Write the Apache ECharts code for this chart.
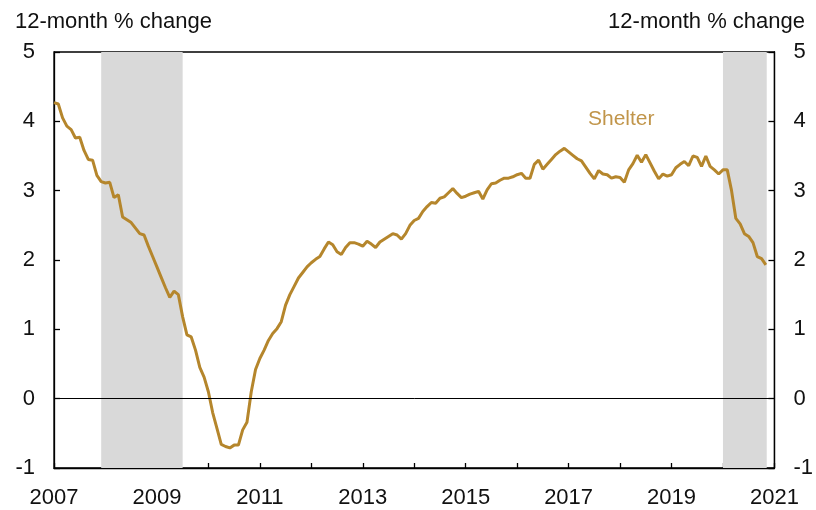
<!DOCTYPE html>
<html>
<head>
<meta charset="UTF-8">
<title>Shelter</title>
<script src="https://cdn.jsdelivr.net/npm/echarts@6/dist/echarts.min.js"></script>
<style>
  html, body { margin: 0; padding: 0; background: #fff; }
  #chart { width: 816px; height: 510px; }
</style>
</head>
<body>
<div id="chart"></div>
<script>
// monthly 12-month % change, Jan 2007 .. Nov 2020
var startYear = 2007;
var shelter = [
  4.27, 4.25, 4.05, 3.93, 3.88, 3.76, 3.77, 3.58, 3.45, 3.44, 3.22, 3.13,
  3.11, 3.12, 2.90, 2.94, 2.62, 2.58, 2.54, 2.46, 2.38, 2.36, 2.20, 2.05,
  1.90, 1.75, 1.60, 1.46, 1.55, 1.50, 1.18, 0.92, 0.89, 0.70, 0.45, 0.31,
  0.10, -0.20, -0.43, -0.66, -0.69, -0.71, -0.67, -0.67, -0.45, -0.34, 0.10, 0.42,
  0.58, 0.70, 0.84, 0.94, 1.01, 1.11, 1.35, 1.50, 1.62, 1.74, 1.82, 1.90,
  1.96, 2.01, 2.05, 2.16, 2.26, 2.22, 2.12, 2.08, 2.18, 2.25, 2.25, 2.23,
  2.20, 2.27, 2.23, 2.18, 2.26, 2.30, 2.34, 2.38, 2.36, 2.30, 2.38, 2.50,
  2.57, 2.60, 2.70, 2.77, 2.83, 2.82, 2.89, 2.91, 2.97, 3.03, 2.96, 2.90,
  2.92, 2.95, 2.97, 2.99, 2.88, 3.01, 3.10, 3.11, 3.15, 3.18, 3.18, 3.20,
  3.23, 3.25, 3.18, 3.18, 3.38, 3.44, 3.31, 3.38, 3.45, 3.52, 3.57, 3.61,
  3.56, 3.51, 3.46, 3.43, 3.34, 3.25, 3.17, 3.29, 3.24, 3.23, 3.18, 3.20,
  3.19, 3.12, 3.30, 3.39, 3.51, 3.41, 3.52, 3.40, 3.28, 3.17, 3.24, 3.21,
  3.23, 3.33, 3.38, 3.42, 3.36, 3.50, 3.48, 3.35, 3.50, 3.35, 3.30, 3.24,
  3.30, 3.30, 3.00, 2.60, 2.52, 2.38, 2.34, 2.25, 2.05, 2.02, 1.93
];
// recession periods (decimal years)
var recessions = [[2007.917, 2009.5], [2020.0, 2020.85]];
var yearLabels = ['2007', '2009', '2011', '2013', '2015', '2017', '2019', '2021'];
var yLabels = ['-1', '0', '1', '2', '3', '4', '5'];

var lineColor = '#b5862c';
var font = 'Liberation Sans, Arial, Helvetica, sans-serif';

var points = shelter.map(function (v, i) { return [startYear + i / 12, v]; });

var chart = echarts.init(document.getElementById('chart'));
var yAxisBase = {
  type: 'value', min: -1, max: 5, interval: 1,
  splitLine: { show: false },
  axisLine: { show: true, lineStyle: { color: '#000', width: 1.3 } },
  axisTick: { show: true, inside: true, length: 6, lineStyle: { color: '#000', width: 1.3 } },
  axisLabel: {
    margin: 19, fontSize: 22, color: '#111', fontFamily: font,
    formatter: function (v) { return yLabels.indexOf(String(v)) >= 0 ? String(v) : ''; }
  }
};
var option = {
  animation: false,
  backgroundColor: '#fff',
  title: [
    { text: '12-month % change', left: 10, top: 6, textStyle: { fontSize: 22, fontWeight: 'normal', color: '#111', fontFamily: font } },
    { text: '12-month % change', right: 6, top: 6, textStyle: { fontSize: 22, fontWeight: 'normal', color: '#111', fontFamily: font } }
  ],
  grid: { left: 54, right: 38, top: 52, bottom: 42, show: true, borderColor: '#000', borderWidth: 1.3, backgroundColor: 'transparent' },
  xAxis: {
    type: 'value', min: 2007, max: 2021, interval: 1,
    splitLine: { show: false },
    axisLine: { show: true, onZero: false, lineStyle: { color: '#000', width: 1.3 } },
    axisTick: { show: true, inside: true, length: 5, lineStyle: { color: '#000', width: 1.3 } },
    axisLabel: {
      margin: 19, fontSize: 22, color: '#111', fontFamily: font,
      formatter: function (v) { return yearLabels.indexOf(String(v)) >= 0 ? String(v) : ''; }
    }
  },
  yAxis: [
    Object.assign({}, yAxisBase, { position: 'left' }),
    Object.assign({}, yAxisBase, { position: 'right' })
  ],
  graphic: [
    { type: 'text', left: 588, top: 109, style: { text: 'Shelter', fontSize: 21, fill: '#c1954a', fontFamily: font } }
  ],
  series: [
    {
      // recession shading
      type: 'line',
      data: [],
      z: 1,
      silent: true,
      markArea: {
        silent: true,
        itemStyle: { color: '#d9d9d9' },
        data: recessions.map(function (r) { return [{ xAxis: r[0] }, { xAxis: r[1] }]; })
      }
    },
    {
      type: 'line',
      data: points,
      yAxisIndex: 0,
      showSymbol: false,
      lineStyle: { color: lineColor, width: 3 },
      z: 3,
      markLine: {
        silent: true,
        symbol: 'none',
        label: { show: false },
        lineStyle: { color: '#000', width: 1, type: 'solid' },
        data: [{ yAxis: 0 }]
      }
    }
  ]
};
chart.setOption(option);
</script>
</body>
</html>
